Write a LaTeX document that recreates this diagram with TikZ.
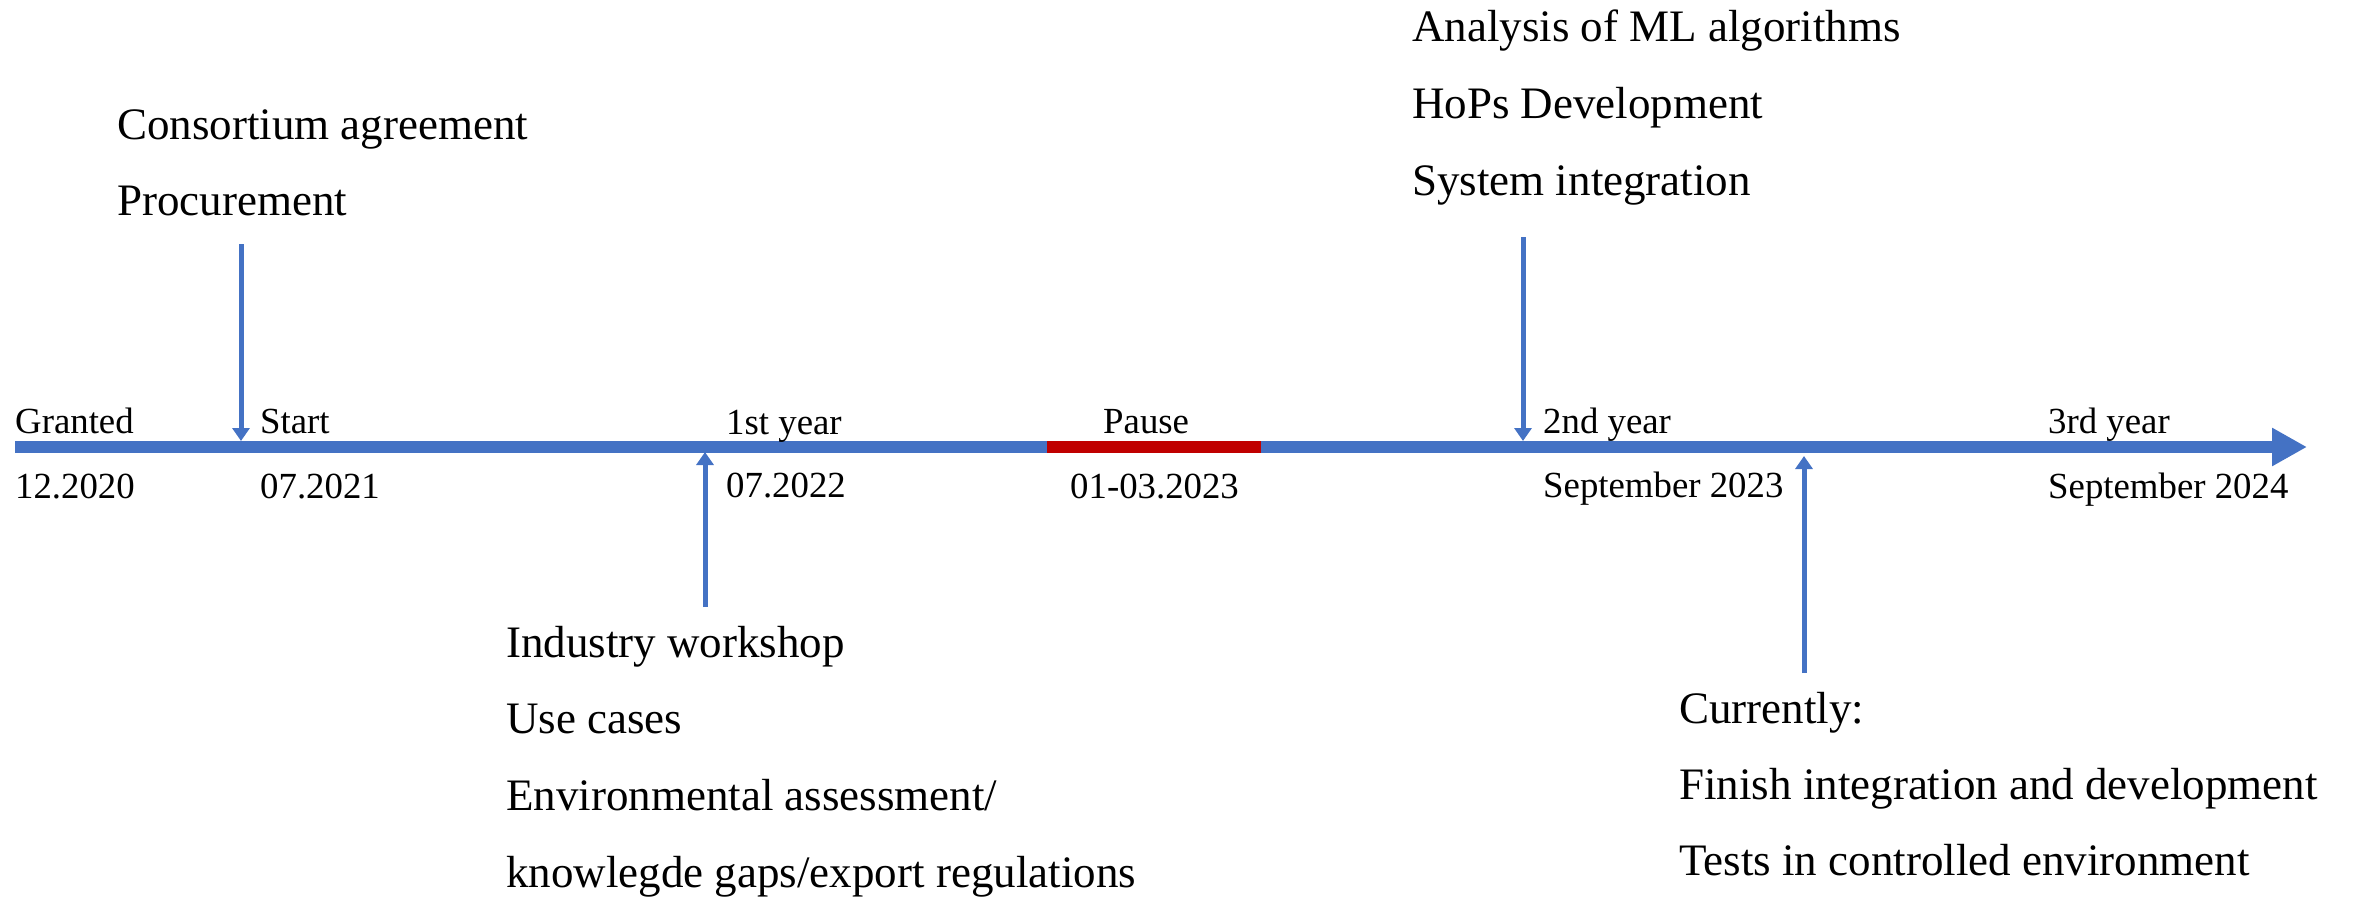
\documentclass[tikz,border=0pt]{standalone}
\usepackage{fontspec}
\setmainfont{Liberation Serif}
\usetikzlibrary{arrows.meta}
\definecolor{lineblue}{HTML}{4472C4}
\definecolor{pausered}{HTML}{C00000}

\begin{document}
\begin{tikzpicture}[x=1pt,y=-1pt,
  datelabel/.style={anchor=base west, inner sep=0pt, font=\fontsize{36.8}{40}\selectfont},
  notelabel/.style={anchor=base west, inner sep=0pt, font=\fontsize{45}{50}\selectfont},
  timeline/.style={draw=lineblue, line width=12pt},
  eventarrow/.style={draw=lineblue, line width=5pt, -{Triangle[length=13pt,width=17pt]}},
]
\useasboundingbox (0,0) rectangle (2364,899);

% main time axis
\coordinate (tlStart) at (15,447);
\coordinate (tlEnd) at (2307,447);
\draw[timeline, -{Triangle[length=35pt,width=36pt]}] (tlStart) -- (tlEnd);

% pause interval
\coordinate (pauseA) at (1047,447);
\coordinate (pauseB) at (1261,447);
\draw[draw=pausered, line width=12pt] (pauseA) -- (pauseB);

% milestone labels above / dates below the axis
\node[datelabel] (granted) at (15,433) {Granted};
\node[datelabel] (grantedDate) at (15,498) {12.2020};
\node[datelabel] (start) at (260,433) {Start};
\node[datelabel] (startDate) at (260,498) {07.2021};
\node[datelabel] (year1) at (726,434) {1st year};
\node[datelabel] (year1Date) at (726,497) {07.2022};
\node[datelabel] (pause) at (1103,433) {Pause};
\node[datelabel] (pauseDate) at (1070,498) {01-03.2023};
\node[datelabel] (year2) at (1543,433) {2nd year};
\node[datelabel] (year2Date) at (1543,497) {September 2023};
\node[datelabel] (year3) at (2048,433) {3rd year};
\node[datelabel] (year3Date) at (2048,498) {September 2024};

% activities: start of project
\node[notelabel] (consortium) at (117,139) {Consortium agreement};
\node[notelabel] (procurement) at (117,215) {Procurement};

% activities: second year
\node[notelabel] (mlAnalysis) at (1412,42) {Analysis of ML algorithms};
\node[notelabel] (hops) at (1412,118) {HoPs Development};
\node[notelabel] (sysInt) at (1412,195) {System integration};

% activities: first year
\node[notelabel] (workshop) at (506,657) {Industry workshop};
\node[notelabel] (useCases) at (506,733) {Use cases};
\node[notelabel] (envAssess) at (506,810) {Environmental assessment/};
\node[notelabel] (gaps) at (506,887) {knowlegde gaps/export regulations};

% activities: current work
\node[notelabel] (currently) at (1679,723) {Currently:};
\node[notelabel] (finish) at (1679,799) {Finish integration and development};
\node[notelabel] (tests) at (1679,875) {Tests in controlled environment};

% event pointers
\coordinate (procFoot) at (241,244);
\coordinate (startPt) at (241,441);
\coordinate (workshopFoot) at (705,607);
\coordinate (year1Pt) at (705,452);
\coordinate (mlFoot) at (1523,237);
\coordinate (year2Pt) at (1523,441);
\coordinate (currentFoot) at (1804,673);
\coordinate (currentPt) at (1804,456);

\draw[eventarrow] (procFoot) -- (startPt);
\draw[eventarrow] (workshopFoot) -- (year1Pt);
\draw[eventarrow] (mlFoot) -- (year2Pt);
\draw[eventarrow] (currentFoot) -- (currentPt);
\end{tikzpicture}
\end{document}
